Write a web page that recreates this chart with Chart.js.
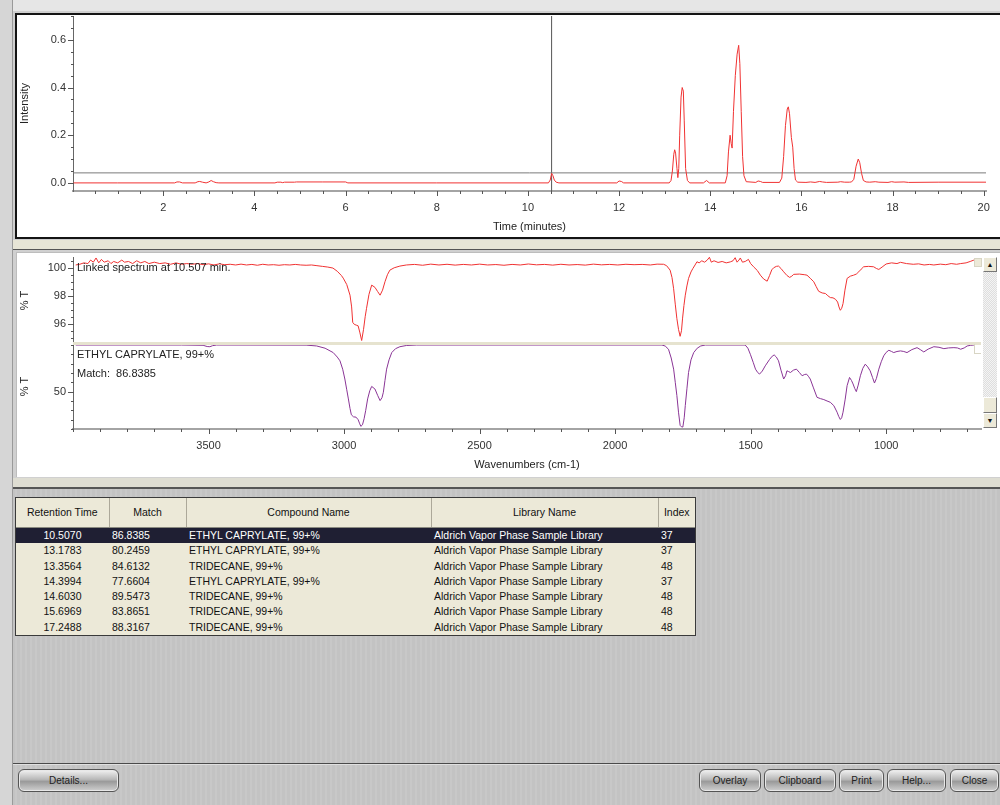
<!DOCTYPE html>
<html>
<head>
<meta charset="utf-8">
<script src="https://cdn.jsdelivr.net/npm/chart.js@4.4.1/dist/chart.umd.min.js"></script>
<style>
  html, body { margin: 0; padding: 0; }
  body {
    width: 1000px; height: 805px; position: relative; overflow: hidden;
    font-family: "Liberation Sans", Arial, sans-serif; color: #111;
    background: #c6c6c6;
    background-image: repeating-linear-gradient(90deg, rgba(255,255,255,0.04) 0 2px, rgba(0,0,0,0.015) 2px 5px);
  }
  .abs { position: absolute; }
  canvas { position: absolute; }
  .lbl { position: absolute; font-size: 11px; white-space: nowrap; color: #222; }
  table { border-collapse: collapse; table-layout: fixed; font-size: 10.5px; }
  td, th { padding: 0 3px; height: 15.3px; line-height: 15.3px; white-space: nowrap; overflow: hidden; }
  th { font-weight: normal; height: 29px; line-height: 29px; border-right: 1px solid #aca899; border-bottom: 1px solid #8a8a80; text-align: center; }
  tr.sel td { background: #1f1f33; color: #fff; }
  .btn {
    position: absolute; top: 769px; height: 21px; border: 1px solid #555; border-radius: 6px;
    background: linear-gradient(#f2f2f2, #b8b8b8 45%, #9a9a9a 55%, #d0d0d0);
    font-size: 10px; line-height: 21px; text-align: center; color: #222;
    box-shadow: inset 0 0 0 1px #e8e8e8;
  }
</style>
</head>
<body>
<!-- window frame -->
<div class="abs" style="left:0;top:0;width:1000px;height:11px;background:#e6e6e6;"></div>
<div class="abs" style="left:0;top:0;width:12px;height:805px;background:#d6d6d6;border-right:1px solid #9a9a9a;"></div>

<!-- chromatogram panel -->
<div class="abs" style="left:13px;top:11px;width:987px;height:229px;background:#cfcfcf;"></div>
<div class="abs" style="left:15px;top:13px;width:990px;height:222px;border:2px solid #141414;background:#fff;"></div>
<div class="abs" style="left:13px;top:240px;width:987px;height:9px;background:#e7e5d6;border-bottom:1px solid #555;"></div>

<!-- IR panel -->
<div class="abs" style="left:13px;top:250px;width:987px;height:228px;background:#d0d0d0;"></div>
<div class="abs" style="left:16px;top:252px;width:984px;height:224px;background:#fff;border-left:1px solid #bdbdbd;border-top:1px solid #bdbdbd;"></div>
<div class="abs" style="left:13px;top:478px;width:987px;height:9px;background:#deddd2;border-bottom:2px solid #555;"></div>

<canvas id="chrom" width="983" height="222" style="left:17px;top:15px;"></canvas>
<canvas id="irTop" width="966" height="91" style="left:17px;top:253px;"></canvas>
<canvas id="irBottom" width="966" height="132" style="left:17px;top:344px;"></canvas>

<!-- separator between the two spectra -->
<div class="abs" style="left:73px;top:342px;width:908px;height:3px;background:#e6e3cf;"></div>
<div class="abs" style="left:974px;top:258px;width:6px;height:7px;background:#ece9d8;border:1px solid #d8d5c4;"></div>
<div class="abs" style="left:974px;top:344px;width:6px;height:9px;border-left:1px solid #d8d5c4;border-bottom:1px solid #d8d5c4;"></div>

<div class="lbl" style="left:77px;top:261px;">Linked spectrum at 10.507 min.</div>
<div class="lbl" style="left:77px;top:348px;">ETHYL CAPRYLATE, 99+%</div>
<div class="lbl" style="left:77px;top:367px;">Match:&nbsp; 86.8385</div>

<!-- scrollbar -->
<div class="abs" style="left:983px;top:257px;width:14px;height:171px;background-color:#f2f2f2;background-image:repeating-conic-gradient(#dedede 0 25%, #f4f4f4 0 50%);background-size:2px 2px;"></div>
<div class="abs" style="left:983px;top:257px;width:12px;height:13px;background:#ece9d8;border:1px solid;border-color:#fff #777 #777 #fff;font-size:7px;line-height:13px;text-align:center;">&#9650;</div>
<div class="abs" style="left:983px;top:397px;width:12px;height:14px;background:#ece9d8;border:1px solid;border-color:#fff #777 #777 #fff;"></div>
<div class="abs" style="left:983px;top:413px;width:12px;height:13px;background:#ece9d8;border:1px solid;border-color:#fff #777 #777 #fff;font-size:7px;line-height:13px;text-align:center;">&#9660;</div>

<!-- results table -->
<div class="abs" style="left:15px;top:497px;border:1px solid #3a3a3a;background:#ece9d8;">
  <table id="hits">
    <colgroup><col style="width:93px"><col style="width:77px"><col style="width:245px"><col style="width:227px"><col style="width:37px"></colgroup>
    <thead><tr><th>Retention Time</th><th>Match</th><th>Compound Name</th><th>Library Name</th><th style="border-right:none">Index</th></tr></thead>
    <tbody></tbody>
  </table>
</div>

<!-- button bar -->
<div class="abs" style="left:13px;top:763px;width:987px;height:1px;background:#4a4a4a;"></div>
<div class="abs" style="left:13px;top:764px;width:987px;height:1px;background:#e0e0e0;"></div>
<div class="btn" style="left:18px;width:99px;">Details...</div>
<div class="btn" style="left:699px;width:60px;">Overlay</div>
<div class="btn" style="left:764px;width:70px;">Clipboard</div>
<div class="btn" style="left:839px;width:43px;">Print</div>
<div class="btn" style="left:887px;width:57px;">Help...</div>
<div class="btn" style="left:950px;width:47px;">Close</div>

<script>
// chromatogram (time in minutes, intensity)
const chromTime = [0.03, 1.0, 2.25, 2.30, 2.36, 2.42, 2.70, 2.76, 2.80, 2.86, 2.94, 3.00, 3.05, 3.10, 3.16, 3.22,
  4.45, 4.50, 4.58, 4.62, 4.66, 4.88, 4.92, 5.5, 6.00, 6.05, 8.0, 10.45, 10.49, 10.52, 10.55, 10.58, 10.62, 10.68,
  11.95, 12.00, 12.05, 12.10, 13.10, 13.14, 13.17, 13.20, 13.22, 13.24, 13.27, 13.29, 13.31, 13.33, 13.36, 13.385,
  13.41, 13.43, 13.46, 13.50, 13.55, 13.85, 13.92, 13.98, 14.33, 14.37, 14.40, 14.436, 14.46, 14.48, 14.51, 14.55,
  14.59, 14.624, 14.65, 14.68, 14.71, 14.74, 14.79, 15.00, 15.05, 15.10, 15.15, 15.52, 15.57, 15.61, 15.65, 15.69,
  15.713, 15.74, 15.78, 15.81, 15.84, 15.87, 15.92, 16.10, 16.20, 16.30, 16.40, 16.46, 16.55, 16.80, 16.86, 16.95,
  17.05, 17.10, 17.15, 17.20, 17.247, 17.28, 17.32, 17.36, 17.42, 17.50, 17.62, 17.70, 17.90, 17.98, 18.05, 18.25,
  18.35, 19.00, 20.05];
const chromIntensity = [0.000, 0.000, 0.000, 0.004, 0.004, 0.000, 0.000, 0.005, 0.006, 0.003, 0.000, 0.004, 0.010, 0.005, 0.001, 0.000,
  0.000, 0.003, 0.003, 0.001, 0.003, 0.003, 0.004, 0.004, 0.004, 0.000, 0.000, 0.000, 0.012, 0.040, 0.030, 0.012, 0.003, 0.000,
  0.000, 0.008, 0.006, 0.000, 0.000, 0.010, 0.050, 0.120, 0.139, 0.125, 0.060, 0.022, 0.060, 0.200, 0.360, 0.400,
  0.385, 0.260, 0.060, 0.010, 0.000, 0.000, 0.010, 0.000, 0.000, 0.030, 0.130, 0.200, 0.165, 0.146, 0.300, 0.450,
  0.540, 0.577, 0.500, 0.300, 0.110, 0.030, 0.005, 0.002, 0.008, 0.006, 0.002, 0.002, 0.020, 0.110, 0.240, 0.310,
  0.319, 0.290, 0.190, 0.150, 0.060, 0.012, 0.003, 0.002, 0.004, 0.002, 0.006, 0.004, 0.002, 0.003, 0.005, 0.003,
  0.003, 0.004, 0.015, 0.070, 0.100, 0.085, 0.040, 0.010, 0.004, 0.003, 0.005, 0.003, 0.002, 0.005, 0.003, 0.004,
  0.002, 0.003, 0.003];
const thresholdLine = 0.042;
const cursorTime = 10.52;
const chromTimeLabels = [2, 4, 6, 8, 10, 12, 14, 16, 18, 20];
const chromIntensityLabels = [0, 0.2, 0.4, 0.6];
const chromTimeAxis = { min: 0.02, max: 20.05, minor: 0.5, labels: chromTimeLabels };
const chromIntensityAxis = { min: -0.034, max: 0.70, minor: 0.05, labels: chromIntensityLabels };

// linked sample spectrum (wavenumber, %T)
const sampleWavenumber = [3990, 3975, 3960, 3945, 3935, 3925, 3915, 3905, 3895, 3885, 3870, 3860, 3850, 3835, 3820, 3810,
  3795, 3780, 3765, 3750, 3735, 3720, 3700, 3680, 3660, 3640, 3620, 3600, 3580, 3560, 3540, 3520, 3500, 3480, 3460,
  3440, 3420, 3400, 3380, 3360, 3340, 3320, 3300, 3280, 3260, 3240, 3220, 3200, 3180, 3160, 3140, 3120, 3100, 3080,
  3060, 3041, 3025, 3010, 3003, 2990, 2978, 2972, 2968, 2962, 2955, 2948, 2942, 2935, 2928, 2922, 2917, 2908, 2898,
  2886, 2876, 2867, 2858, 2849, 2840, 2831, 2815, 2794, 2770, 2740, 2710, 2680, 2650, 2620, 2590, 2560, 2530, 2500,
  2470, 2440, 2410, 2380, 2350, 2320, 2290, 2260, 2230, 2200, 2170, 2140, 2110, 2080, 2050, 2020, 1990, 1960, 1930,
  1900, 1870, 1845, 1821, 1810, 1797, 1790, 1784, 1778, 1772, 1766, 1760, 1755, 1751, 1746, 1741, 1735, 1729, 1720,
  1713, 1705, 1698, 1690, 1680, 1670, 1660, 1652, 1645, 1635, 1620, 1605, 1590, 1575, 1565, 1557, 1550, 1543, 1538,
  1530, 1520, 1508, 1500, 1489, 1475, 1464, 1452, 1439, 1430, 1422, 1415, 1405, 1397, 1388, 1378, 1366, 1356, 1348,
  1341, 1320, 1300, 1292, 1280, 1267, 1258, 1249, 1236, 1224, 1215, 1206, 1196, 1187, 1179, 1174, 1169, 1164, 1159,
  1152, 1144, 1132, 1120, 1110, 1101, 1092, 1083, 1065, 1046, 1036, 1027, 1015, 1000, 980, 960, 947, 925, 900, 880,
  860, 840, 824, 800, 780, 760, 740, 725, 705, 690, 676];
const sampleTransmittance = [100.20, 100.25, 100.35, 100.30, 100.55, 100.40, 100.70, 100.35, 100.60, 100.40, 100.50, 100.30, 100.45, 100.35, 100.55, 100.40,
  100.45, 100.30, 100.50, 100.35, 100.45, 100.30, 100.40, 100.30, 100.35, 100.25, 100.35, 100.25, 100.30, 100.25, 100.30, 100.22, 100.28, 100.20, 100.28,
  100.22, 100.25, 100.20, 100.26, 100.20, 100.24, 100.18, 100.25, 100.20, 100.22, 100.18, 100.22, 100.20, 100.24, 100.20, 100.18, 100.20, 100.15, 100.10,
  100.05, 99.98, 99.75, 99.45, 99.26, 98.80, 98.04, 97.20, 96.10, 95.95, 95.90, 95.85, 95.40, 94.80, 95.60, 96.50, 97.10, 98.10, 98.76,
  98.60, 98.30, 98.04, 98.40, 99.00, 99.50, 99.83, 100.00, 100.12, 100.20, 100.24, 100.18, 100.26, 100.20, 100.25, 100.19, 100.24, 100.20, 100.26,
  100.20, 100.23, 100.18, 100.24, 100.20, 100.27, 100.21, 100.24, 100.19, 100.25, 100.20, 100.23, 100.19, 100.26, 100.21, 100.24, 100.20, 100.25, 100.22,
  100.24, 100.20, 100.26, 100.25, 100.15, 99.83, 99.30, 98.50, 97.40, 96.36, 95.60, 95.10, 95.50, 96.40, 97.30, 98.04, 98.70, 99.24, 99.70,
  99.95, 100.20, 100.43, 100.35, 100.50, 100.40, 100.55, 100.75, 100.40, 100.50, 100.38, 100.45, 100.35, 100.42, 100.50, 100.72, 100.40, 100.55, 100.70,
  100.40, 100.45, 100.60, 100.30, 100.07, 99.80, 99.47, 99.20, 99.04, 99.45, 99.85, 100.00, 100.10, 100.12, 99.95, 99.71, 99.45, 99.31, 99.40,
  99.53, 99.55, 99.50, 99.47, 99.25, 99.00, 98.65, 98.32, 98.20, 98.16, 98.00, 97.87, 97.85, 97.75, 97.55, 97.20, 96.96, 97.10, 97.44,
  98.40, 99.24, 99.40, 99.47, 99.55, 99.71, 99.90, 100.07, 100.10, 100.07, 99.95, 99.88, 100.05, 100.27, 100.35, 100.30, 100.39, 100.30, 100.25, 100.28,
  100.20, 100.24, 100.20, 100.26, 100.22, 100.30, 100.25, 100.30, 100.35, 100.45, 100.55];
const sampleLabels = [96, 98, 100];
const sampleAxis = { min: 94.55, max: 100.77, minor: 0.5, labels: sampleLabels };

// library spectrum: ETHYL CAPRYLATE, 99+% (wavenumber, %T)
const libraryWavenumber = [3990, 3600, 3520, 3505, 3495, 3485, 3470, 3140, 3101, 3070, 3040, 3025, 3015, 3005, 2997, 2990,
  2984, 2978, 2973, 2965, 2956, 2948, 2942, 2938, 2932, 2926, 2920, 2913, 2905, 2898, 2886, 2876, 2867, 2860, 2855,
  2849, 2843, 2834, 2824, 2810, 2794, 2770, 2732, 1827, 1815, 1803, 1793, 1784, 1778, 1772, 1766, 1760, 1755, 1750,
  1745, 1741, 1735, 1729, 1720, 1710, 1697, 1684, 1667, 1520, 1510, 1501, 1490, 1482, 1474, 1467, 1457, 1446, 1430,
  1420, 1413, 1405, 1397, 1388, 1378, 1371, 1366, 1360, 1353, 1342, 1331, 1320, 1310, 1302, 1294, 1287, 1280, 1268,
  1255, 1242, 1230, 1218, 1206, 1193, 1181, 1175, 1169, 1164, 1159, 1151, 1144, 1135, 1128, 1122, 1116, 1110, 1103,
  1095, 1086, 1077, 1068, 1059, 1050, 1043, 1036, 1027, 1018, 1009, 1000, 990, 980, 972, 960, 947, 935, 923, 905,
  886, 874, 861, 845, 824, 805, 787, 770, 750, 737, 725, 712, 701, 688, 676];
const libraryTransmittance = [99.9, 99.9, 99.6, 98.3, 98.1, 99.2, 99.9, 99.8, 98.9, 96.5, 91.8, 87.0, 83.0, 74.0, 63.5, 52.0,
  42.2, 32.0, 25.2, 23.0, 22.7, 20.0, 15.5, 12.8, 14.5, 21.0, 30.0, 42.2, 51.0, 55.6, 52.8, 46.0, 40.4, 43.5, 49.3,
  62.0, 74.1, 84.0, 91.8, 96.0, 98.1, 99.4, 99.9, 99.9, 98.8, 95.4, 86.0, 74.1, 60.0, 45.7, 28.0, 13.9, 12.3, 12.1,
  22.0, 35.1, 53.0, 70.5, 84.0, 91.8, 96.5, 98.9, 99.9, 99.9, 96.5, 90.0, 81.0, 74.1, 70.5, 68.8, 72.0, 77.6, 84.5,
  88.0, 89.3, 87.0, 83.0, 73.0, 63.5, 67.0, 72.3, 71.5, 70.5, 73.0, 74.1, 70.5, 67.0, 68.2, 68.8, 66.5, 63.5, 54.0,
  43.9, 42.5, 41.5, 40.0, 38.6, 35.0, 28.0, 23.5, 20.2, 22.0, 28.0, 42.0, 56.4, 65.2, 62.0, 58.2, 53.5, 50.0, 57.0,
  67.0, 75.0, 79.4, 76.5, 72.3, 65.0, 59.2, 64.0, 74.1, 82.0, 88.3, 92.0, 94.3, 93.0, 91.8, 93.0, 93.6, 93.0, 91.8, 95.0,
  97.1, 95.0, 92.5, 95.5, 98.1, 97.5, 96.0, 96.8, 97.1, 96.8, 95.4, 96.8, 98.9, 99.6, 99.9];
const libraryLabels = [50];
const libraryAxis = { min: 10, max: 101, minor: 10, labels: libraryLabels };
const wavenumberLabels = [1000, 1500, 2000, 2500, 3000, 3500];
const wavenumberAxis = { min: 650, max: 4000, minor: 100, labels: wavenumberLabels };

// search hits
const hitRetention = ['10.5070', '13.1783', '13.3564', '14.3994', '14.6030', '15.6969', '17.2488'];
const hitMatch = ['86.8385', '80.2459', '84.6132', '77.6604', '89.5473', '83.8651', '88.3167'];
const hitCompound = ['ETHYL CAPRYLATE, 99+%', 'ETHYL CAPRYLATE, 99+%', 'TRIDECANE, 99+%', 'ETHYL CAPRYLATE, 99+%',
  'TRIDECANE, 99+%', 'TRIDECANE, 99+%', 'TRIDECANE, 99+%'];
const hitLibrary = hitRetention.map(() => 'Aldrich Vapor Phase Sample Library');
const hitIndex = ['37', '37', '48', '37', '48', '48', '48'];

const tbody = document.querySelector('#hits tbody');
hitRetention.forEach((rt, i) => {
    const tr = document.createElement('tr');
    if (i === 0) tr.className = 'sel';
    tr.innerHTML = '<td style="text-align:center">' + rt + '</td><td>' + hitMatch[i] + '</td><td>' + hitCompound[i] +
        '</td><td>' + hitLibrary[i] + '</td><td>' + hitIndex[i] + '</td>';
    tbody.appendChild(tr);
});

const FONT = { family: '"Liberation Sans", Arial, sans-serif', size: 11 };
const RED = '#f03232';
const PURPLE = '#8a3596';

// draws the major / minor tick marks along the axes
const tickMarks = {
    id: 'tickMarks',
    afterDraw(chart, args, opts) {
        const ctx = chart.ctx;
        ctx.save();
        ctx.strokeStyle = '#555';
        ctx.lineWidth = 1;
        (opts.axes || []).forEach(a => {
            const scale = chart.scales[a.id];
            const first = Math.ceil(a.t.min / a.t.minor - 1e-9);
            const last = Math.floor(a.t.max / a.t.minor + 1e-9);
            for (let i = first; i <= last; i++) {
                const v = i * a.t.minor;
                const major = a.t.labels.some(l => Math.abs(l - v) < 1e-6);
                const len = major ? a.majorLen : a.minorLen;
                const p = Math.round(scale.getPixelForValue(v)) + 0.5;
                ctx.beginPath();
                if (scale.isHorizontal()) {
                    ctx.moveTo(p, scale.top);
                    ctx.lineTo(p, scale.top + len);
                } else {
                    ctx.moveTo(scale.right - len, p);
                    ctx.lineTo(scale.right + 1, p);
                }
                ctx.stroke();
            }
        });
        ctx.restore();
    }
};

function xy(xs, ys) {
    return xs.map((x, i) => ({ x: x, y: ys[i] }));
}

function fixedTicks(values) {
    return s => { s.ticks = values.map(v => ({ value: v })); };
}

function xAxis(axis, title, height, digits, extra) {
    return Object.assign({
        type: 'linear', min: axis.min, max: axis.max,
        grid: { display: false, drawTicks: false },
        border: { color: '#a4a4a4', width: 2 },
        afterBuildTicks: fixedTicks(axis.labels),
        ticks: { autoSkip: false, padding: 10, color: '#333', font: FONT, maxRotation: 0, callback: v => v.toFixed(digits) },
        title: { display: true, text: title, color: '#222', font: FONT, padding: { top: 0, bottom: 3 } },
        afterFit: s => { s.height = height; s.paddingLeft = 0; s.paddingRight = 0; }
    }, extra);
}

function yAxis(axis, title, digits) {
    return {
        min: axis.min, max: axis.max,
        grid: { display: false, drawTicks: false },
        border: { color: '#666', width: 1 },
        afterBuildTicks: fixedTicks(axis.labels),
        ticks: { autoSkip: false, padding: 7, color: '#333', font: FONT, callback: v => v.toFixed(digits) },
        title: { display: true, text: title, color: '#222', font: FONT, padding: { top: 1, bottom: 0 } },
        afterFit: s => { s.width = 56; s.paddingTop = 0; s.paddingBottom = 0; }
    };
}

function options(padding, scales, axes) {
    return {
        responsive: false,
        animation: false,
        devicePixelRatio: 1,
        layout: { padding: padding },
        elements: { point: { radius: 0 }, line: { borderWidth: 1, tension: 0 } },
        scales: scales,
        plugins: {
            legend: { display: false },
            tooltip: { enabled: false },
            tickMarks: { axes: axes }
        }
    };
}

// chromatogram
new Chart(document.getElementById('chrom'), {
    type: 'line',
    data: {
        datasets: [
            { data: xy(chromTime, chromIntensity), borderColor: RED },
            { data: xy([chromTimeAxis.min, chromTimeAxis.max], [thresholdLine, thresholdLine]), borderColor: '#7a7a7a' },
            { data: xy([cursorTime, cursorTime], [chromIntensityAxis.min, chromIntensityAxis.max]), borderColor: '#555' }
        ]
    },
    options: options({ top: 1, right: 14, left: 0, bottom: 0 }, {
        x: xAxis(chromTimeAxis, 'Time (minutes)', 46, 0),
        y: yAxis(chromIntensityAxis, 'Intensity', 1)
    }, [
        { id: 'x', t: chromTimeAxis, majorLen: 5, minorLen: 3 },
        { id: 'y', t: chromIntensityAxis, majorLen: 5, minorLen: 2 }
    ]),
    plugins: [tickMarks]
});

// linked sample spectrum
new Chart(document.getElementById('irTop'), {
    type: 'line',
    data: { datasets: [{ data: xy(sampleWavenumber, sampleTransmittance), borderColor: RED }] },
    options: options({ top: 4, right: 2, left: 0, bottom: 0 }, {
        x: { type: 'linear', reverse: true, min: wavenumberAxis.min, max: wavenumberAxis.max, display: false },
        y: yAxis(sampleAxis, '% T', 0)
    }, [
        { id: 'y', t: sampleAxis, majorLen: 5, minorLen: 2 }
    ]),
    plugins: [tickMarks]
});

// library spectrum
const libraryX = xAxis(wavenumberAxis, 'Wavenumbers (cm-1)', 47, 0, { reverse: true });
libraryX.title.padding = { top: 0, bottom: 4 };
new Chart(document.getElementById('irBottom'), {
    type: 'line',
    data: { datasets: [{ data: xy(libraryWavenumber, libraryTransmittance), borderColor: PURPLE }] },
    options: options({ top: 0, right: 2, left: 0, bottom: 0 }, {
        x: libraryX,
        y: yAxis(libraryAxis, '% T', 0)
    }, [
        { id: 'x', t: wavenumberAxis, majorLen: 5, minorLen: 3 },
        { id: 'y', t: libraryAxis, majorLen: 5, minorLen: 2 }
    ]),
    plugins: [tickMarks]
});
</script>
</body>
</html>
